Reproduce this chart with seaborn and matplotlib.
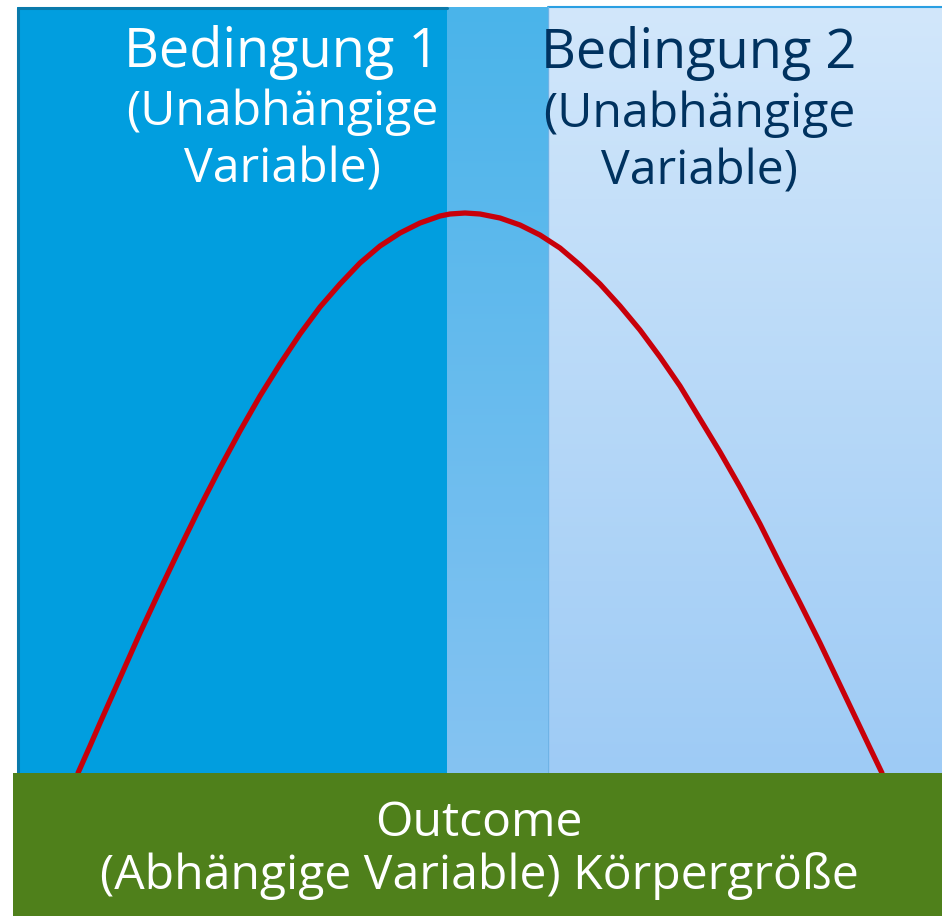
import numpy as np
import matplotlib
matplotlib.use("Agg")
import matplotlib.pyplot as plt
from matplotlib.colors import LinearSegmentedColormap
from matplotlib.patches import Rectangle
import seaborn as sns

# curve (x position, height above the outcome bar)
curve_x = [78, 90, 100, 120, 140, 160, 180, 200, 220, 240, 260, 280, 300,
           320, 340, 360, 380, 400, 420, 440, 450, 465, 480, 500, 520, 540,
           560, 580, 600, 620, 640, 660, 680, 700, 720, 740, 760, 780, 800,
           820, 840, 860, 870, 882]
curve_h = [0, 27, 50, 95, 140, 183, 225, 266, 305, 342, 377, 409, 439,
           466, 489, 510, 527, 540, 550, 557, 559, 560, 559, 555, 548, 538,
           525, 508, 489, 467, 443, 416, 387, 354, 321, 286, 249, 209, 170,
           130, 88, 46, 25, 0]

cond1_lines = ["Bedingung 1", "(Unabhängige", "Variable)"]
cond2_lines = ["Bedingung 2", "(Unabhängige", "Variable)"]
outcome_lines = ["Outcome", "(Abhängige Variable) Körpergröße"]

sns.set_theme(style="white")
plt.rcParams["font.family"] = ["Open Sans", "DejaVu Sans"]

fig = plt.figure(figsize=(9.42, 9.16), dpi=100)
ax = fig.add_axes([0, 0, 1, 1])
ax.set_axis_off()

top = 766
# right condition: vertical gradient
grad = np.linspace(0, 1, 256).reshape(-1, 1)
cm_right = LinearSegmentedColormap.from_list("r", ["#d2e7fb", "#9ecbf5"])
ax.imshow(grad, cmap=cm_right, extent=(447, 942, 0, top), aspect="auto", zorder=1)
ax.plot([548, 942], [top, top], color="#2a9fe2", lw=1.5, zorder=2)
ax.plot([548, 548], [0, top], color="#6fb3e6", lw=1.0, zorder=2)

# left condition
ax.add_patch(Rectangle((17, 0), 430, top, facecolor="#019edf",
                       edgecolor="none", zorder=2))
ax.plot([18, 18, 447], [0, top - 1, top - 1], color="#0a7aab", lw=2.2, zorder=3)

# overlap
cm_mid = LinearSegmentedColormap.from_list("m", ["#4ab4ea", "#85c3f2"])
ax.imshow(grad, cmap=cm_mid, extent=(447, 548, 0, top), aspect="auto", zorder=2)

# outcome bar
ax.add_patch(Rectangle((13, -143), 929, 143, facecolor="#4f801b",
                       edgecolor="none", zorder=5))

sns.lineplot(x=curve_x, y=curve_h, sort=False, estimator=None, ax=ax,
             color="#c8000a", lw=3.8, zorder=4, solid_joinstyle="round")

fs = 34.7
sizes = [39, fs, fs]
for txt, yb, s in zip(cond1_lines, [706, 648, 590], sizes):
    ax.text(282, yb, txt, ha="center", va="baseline", fontsize=s,
            color="white", zorder=6)
for txt, yb, s in zip(cond2_lines, [705, 646, 588], sizes):
    ax.text(699, yb, txt, ha="center", va="baseline", fontsize=s,
            color="#00325f", zorder=6)
for txt, yb in zip(outcome_lines, [-63, -116]):
    ax.text(479, yb, txt, ha="center", va="baseline", fontsize=fs,
            color="white", zorder=6)

ax.set_xlim(0, 942)
ax.set_ylim(-143, 773)
fig.savefig("out.png", dpi=100, facecolor="white")
